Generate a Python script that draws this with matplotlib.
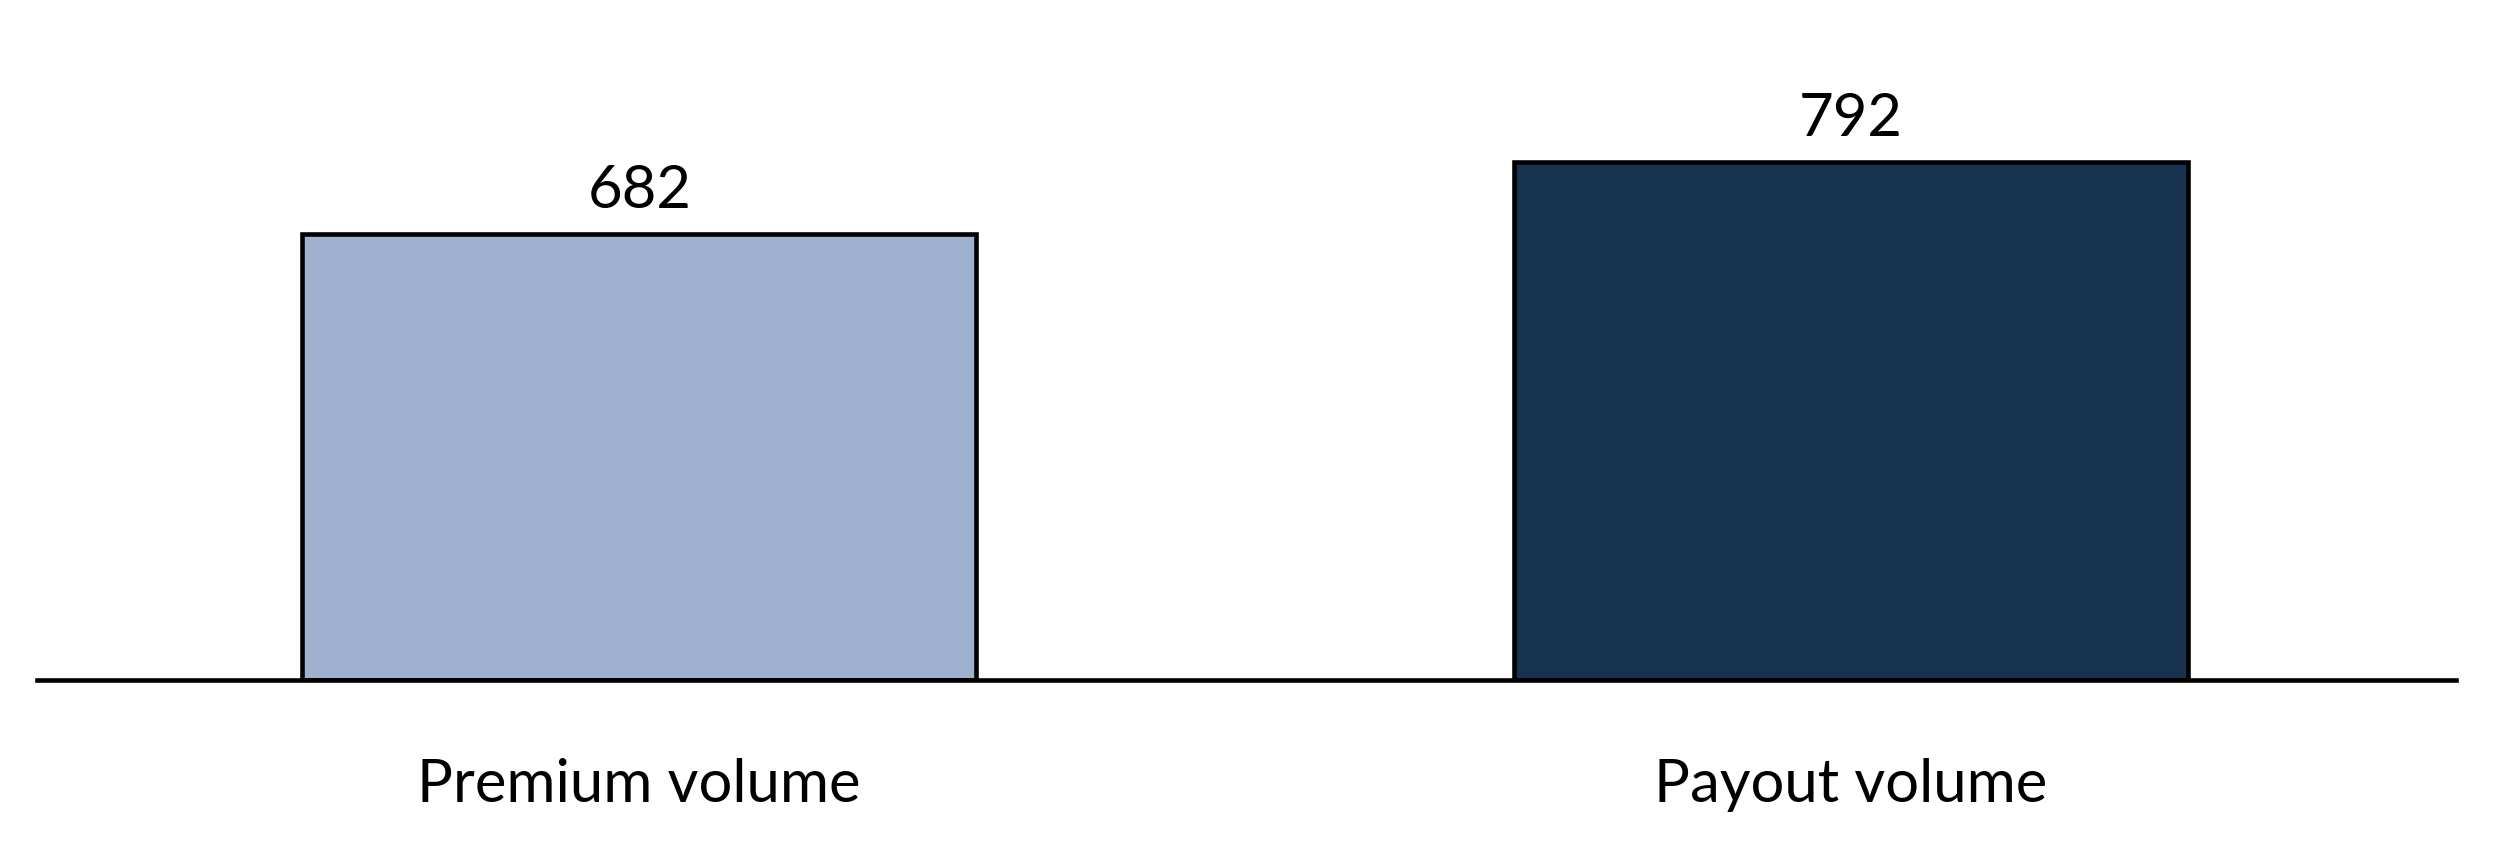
import matplotlib.pyplot as plt

# data
categories = ['Premium volume', 'Payout volume']
values = [682, 792]
colors = ['#9eb1cf', '#16324f']

plt.rcParams['font.family'] = ['Lato', 'DejaVu Sans']

fig = plt.figure(figsize=(24.93, 8.6), dpi=100)
ax = fig.add_axes([0.0148, 0.2093, 0.9703, 0.7907])

x = range(len(categories))
bars = ax.bar(x, values, width=0.556, color=colors, edgecolor='black', linewidth=3.3, zorder=3)

# value labels above the bars
for rect, v in zip(bars, values):
    ax.annotate(f'{v}', (rect.get_x() + rect.get_width() / 2, rect.get_height()),
                xytext=(0, 19), textcoords='offset points',
                ha='center', va='baseline', fontsize=43, color='black')

ax.set_xlim(-0.497, 1.499)
ax.set_ylim(0, 1040)
ax.set_xticks(list(x), categories, fontsize=43)
ax.tick_params(axis='x', length=0, pad=56)
ax.set_yticks([])

for side in ['top', 'left', 'right']:
    ax.spines[side].set_visible(False)
ax.spines['bottom'].set_linewidth(3.3)
ax.spines['bottom'].set_zorder(4)

fig.savefig('out.png', dpi=100, facecolor='white')
